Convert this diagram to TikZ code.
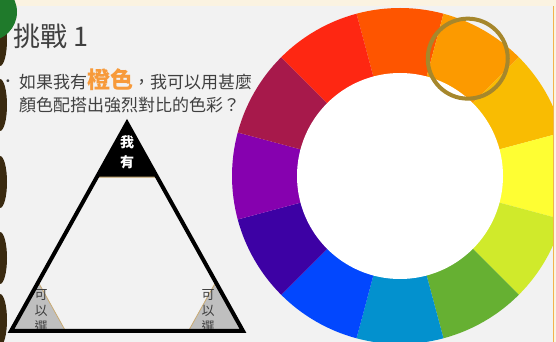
\documentclass[tikz,border=0pt]{standalone}
\usepackage{fontspec}
\newfontfamily\cjk{Noto Sans CJK TC}
\usetikzlibrary{calc,positioning}
\definecolor{slidebg}{HTML}{F2F2F2}
\definecolor{cream}{HTML}{FBF3E1}
\definecolor{rim}{HTML}{F2B24E}
\definecolor{ringbrown}{HTML}{3A2A10}
\definecolor{leafgreen}{HTML}{1F7A2B}
\definecolor{textgray}{HTML}{404040}
\definecolor{hlorange}{HTML}{F79A3A}
\definecolor{tan}{HTML}{C9AA72}
\definecolor{cornergray}{HTML}{BFBFBF}
\definecolor{pickring}{HTML}{A6872C}
\definecolor{c090}{HTML}{FE5500}
\definecolor{c060}{HTML}{FC9A00}
\definecolor{c030}{HTML}{F9BC02}
\definecolor{c000}{HTML}{FEFE33}
\definecolor{c330}{HTML}{D0EA2B}
\definecolor{c300}{HTML}{66B032}
\definecolor{c270}{HTML}{0391CE}
\definecolor{c240}{HTML}{0247FE}
\definecolor{c210}{HTML}{3D01A4}
\definecolor{c180}{HTML}{8601AF}
\definecolor{c150}{HTML}{A7194B}
\definecolor{c120}{HTML}{FE2712}
\tikzset{x=1pt,y=1pt}
\tikzset{
    txt/.style={inner sep=0pt,text=textgray,font=\cjk},
    cornerbox/.style={fill=cornergray,draw=tan,line width=0.8pt},
    vlabel/.style={inner sep=0pt,align=center,font=\cjk\fontsize{13}{16}\selectfont}
}

\begin{document}
\begin{tikzpicture}
    \useasboundingbox (0,0) rectangle (556,342);
    \clip (0,0) rectangle (556,342);
    \fill[slidebg] (0,0) rectangle (556,342);
    % colour wheel
    \coordinate (wc) at (400,166);
    \foreach \a/\c in {90/c090,60/c060,30/c030,0/c000,-30/c330,-60/c300,
                       -90/c270,-120/c240,-150/c210,180/c180,150/c150,120/c120}
        \fill[\c] (wc) -- ++(\a-15:168) arc[start angle=\a-15,end angle=\a+15,radius=168] -- cycle;
    \fill[white] (wc) circle[radius=103];
    \coordinate (pick) at ($(wc)+(60:135.5)$);
    \draw[pickring,line width=4pt] (pick) circle[radius=40];
    % frame strips
    \fill[cream] (0,336) rectangle (556,342);
    \fill[cream] (553,0) rectangle (556,336);
    \draw[rim,line width=0.8pt] (553.4,0) -- (553.4,336);
    \foreach \y in {302,237,160,84,22}
        \fill[ringbrown] (0,\y) ellipse[x radius=7,y radius=26];
    \fill[leafgreen] (-12,330) circle[radius=29];
    % text
    \node[txt,anchor=base west,font=\cjk\fontsize{27}{30}\selectfont] (title) at (13,295) {挑戰 1};
    \node[txt,anchor=center,font=\fontsize{10}{12}\selectfont] (bullet) at (8,260) {•};
    \node[txt,anchor=base west,font=\cjk\fontsize{17}{20}\selectfont] (line1) at (19,253)
        {如果我有{\fontsize{23}{26}\selectfont\bfseries\color{hlorange}橙色}，我可以用甚麼};
    \node[txt,anchor=base west,font=\cjk\fontsize{17}{20}\selectfont] (line2) at (19,230)
        {顏色配搭出強烈對比的色彩？};
    % triangle
    \coordinate (top) at (127,219);
    \coordinate (bl) at (11,11);
    \coordinate (br) at (243,11);
    \fill[black,draw=tan,line width=1pt] (top) -- ($(top)!0.26!(bl)$) -- ($(top)!0.26!(br)$) -- cycle;
    \draw[cornerbox] (bl) -- ($(bl)!0.235!(top)$) -- ($(bl)!0.235!(br)$) -- cycle;
    \draw[cornerbox] (br) -- ($(br)!0.235!(top)$) -- ($(br)!0.235!(bl)$) -- cycle;
    \node[vlabel,text=white,font=\cjk\bfseries\fontsize{14}{20}\selectfont] (have) at (127,190) {我\\有};
    \node[vlabel,text=textgray] (pickl) at (41,31) {可\\以\\選};
    \node[vlabel,text=textgray] (pickr) at (208,31) {可\\以\\選};
    \draw[black,line width=4pt,line join=miter] (top) -- (bl) -- (br) -- cycle;
\end{tikzpicture}
\end{document}
